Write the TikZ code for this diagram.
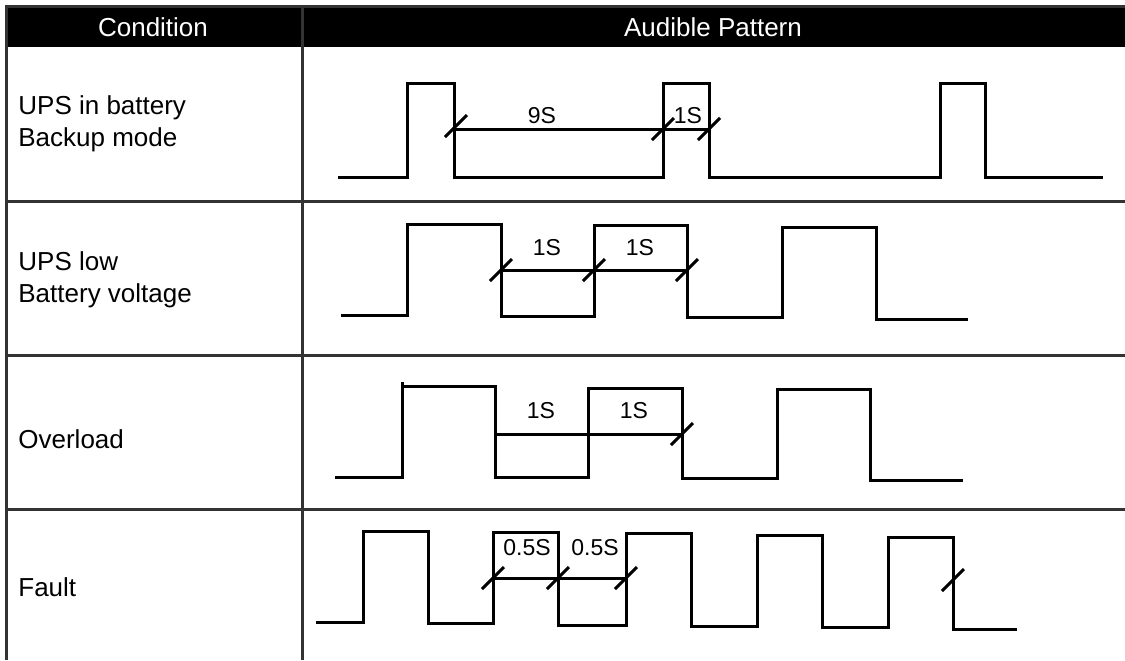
\documentclass[tikz,border=0pt]{standalone}
\usepackage{fontspec}
\setmainfont{Liberation Sans}

\tikzset{
  rule/.style={draw=black!80, line width=1.5pt},
  wave/.style={line width=1.5pt},
  slash/.style={line width=1.5pt},
  cond/.style={anchor=west, align=left, inner sep=0pt, font=\fontsize{13}{16}\selectfont},
  head/.style={text=white, inner sep=0pt, font=\fontsize{13}{16}\selectfont},
  dur/.style={inner sep=0pt, font=\fontsize{11.5}{13}\selectfont}
}
\newcommand{\slashat}[1]{\draw[slash] (#1) ++(-11,11) -- ++(22,-22);}

\begin{document}
\begin{tikzpicture}[x=0.5pt,y=-0.5pt]
\useasboundingbox (0,0) rectangle (1125,660);

% table
\fill[black] (6,6) rectangle (1125,47);
\draw[rule] (6,660) -- (6,6) -- (1125,6);
\draw[rule] (302,6) -- (302,660);
\foreach \y in {201,355,509}
  \draw[rule] (6,\y) -- (1125,\y);

\node[head] (h1) at (153,27) {Condition};
\node[head] (h2) at (713,27) {Audible Pattern};

\node[cond] (c1) at (18,124) {UPS in battery\\Backup mode};
\node[cond] (c2) at (18,280) {UPS low\\Battery voltage};
\node[cond] (c3) at (18,439) {Overload};
\node[cond] (c4) at (18,587) {Fault};

% battery backup
\draw[wave] (338,177) -- (407,177) -- (407,83) -- (454,83) -- (454,177) -- (663,177)
  -- (663,83) -- (709,83) -- (709,177) -- (940,177) -- (940,83) -- (985,83)
  -- (985,177) -- (1103,177);
\draw[wave] (454,129) coordinate (a1) -- (709,129) coordinate (a2);
\coordinate (a3) at (663,129);
\slashat{456,126} \slashat{a3} \slashat{a2}
\node[dur] (t1) at (542,116) {9S};
\node[dur] (t2) at (688,116) {1S};

% low battery
\draw[wave] (341,315) -- (407,315) -- (407,224) -- (501,224) -- (501,316) -- (594,316)
  -- (594,225) -- (687,225) -- (687,317) -- (782,317) -- (782,227) -- (876,227)
  -- (876,319) -- (968,319);
\draw[wave] (501,270) coordinate (b1) -- (687,270) coordinate (b2);
\coordinate (b3) at (594,270);
\slashat{b1} \slashat{b3} \slashat{b2}
\node[dur] (t3) at (547,248) {1S};
\node[dur] (t4) at (640,248) {1S};

% overload
\draw[wave] (335,477) -- (402,477) -- (402,382);
\draw[wave] (402,386) -- (495,386) -- (495,477) -- (588,477) -- (588,388) -- (682,388)
  -- (682,478) -- (777,478) -- (777,389) -- (870,389) -- (870,480) -- (963,480);
\draw[wave] (495,434) coordinate (o1) -- (682,434) coordinate (o2);
\slashat{o2}
\node[dur] (t5) at (541,411) {1S};
\node[dur] (t6) at (634,411) {1S};

% fault
\draw[wave] (316,622) -- (363,622) -- (363,531) -- (428,531) -- (428,623) -- (493,623)
  -- (493,532) -- (558,532) -- (558,625) -- (626,625) -- (626,533) -- (691,533)
  -- (691,626) -- (757,626) -- (757,535) -- (822,535) -- (822,627) -- (888,627)
  -- (888,537) -- (953,537) -- (953,629) -- (1017,629);
\draw[wave] (493,578) coordinate (f1) -- (626,578) coordinate (f2);
\coordinate (f3) at (558,578);
\coordinate (f4) at (953,580);
\slashat{f1} \slashat{f3} \slashat{f2} \slashat{f4}
\node[dur] (t7) at (527,548) {0.5S};
\node[dur] (t8) at (595,548) {0.5S};

\end{tikzpicture}
\end{document}
